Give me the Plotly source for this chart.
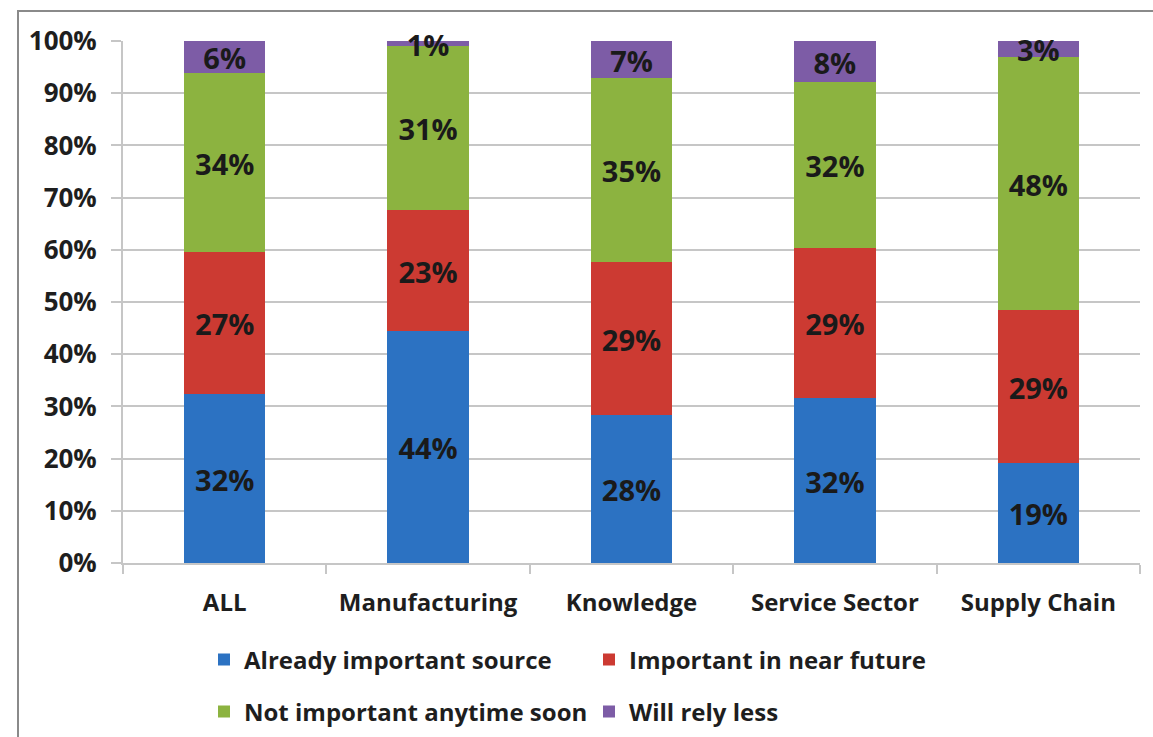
import plotly.graph_objects as go

# Survey responses by sector (percent of respondents)
categories = ["ALL", "Manufacturing", "Knowledge", "Service Sector", "Supply Chain"]
already_important = [32, 44, 28, 32, 19]
important_near_future = [27, 23, 29, 29, 29]
not_important_soon = [34, 31, 35, 32, 48]
will_rely_less = [6, 1, 7, 8, 3]

series_names = [
    "Already important source",
    "Important in near future",
    "Not important anytime soon",
    "Will rely less",
]
series_values = [already_important, important_near_future, not_important_soon, will_rely_less]
series_colors = ["#2C72C2", "#CC3A32", "#8CB340", "#7D5CA6"]
series_legends = ["legend", "legend", "legend2", "legend2"]

FONT = "Open Sans"
TXT = "#1e1e1e"
W, H = 1153, 737
L, R, T, B = 123, 13, 41, 174
PW, PH = W - L - R, H - T - B


def px_x(px):
    return (px - L) / PW


def px_y(py):
    return (H - B - py) / PH


fig = go.Figure()
for name, vals, color, lg in zip(series_names, series_values, series_colors, series_legends):
    fig.add_trace(go.Bar(
        x=categories,
        y=vals,
        name=name,
        marker=dict(color=color, line=dict(width=0)),
        hoverinfo="x+y+name",
        legend=lg,
    ))

# Segment labels, centred in each normalised (100%) stacked segment,
# nudged a few pixels down so the glyphs sit optically centred
label_nudge = 5 / PH * 100
totals = [sum(col) for col in zip(*series_values)]
lab_x, lab_y, lab_t = [], [], []
for i, cat in enumerate(categories):
    base = 0.0
    for vals in series_values:
        share = vals[i] / totals[i] * 100
        lab_x.append(cat)
        lab_y.append(base + share / 2 - label_nudge)
        lab_t.append(f"{vals[i]}%")
        base += share
fig.add_trace(go.Scatter(
    x=lab_x, y=lab_y, text=lab_t,
    mode="text",
    textposition="middle center",
    textfont=dict(family=FONT, size=29, color="#1a1a1a", weight="bold"),
    showlegend=False,
    hoverinfo="skip",
    cliponaxis=False,
))

grid_col = "#c6c6c6"
legend_common = dict(
    orientation="h",
    xref="container", yref="container",
    xanchor="left", yanchor="middle",
    entrywidth=340, entrywidthmode="pixels",
    font=dict(family=FONT, size=24, color=TXT, weight="bold"),
    bgcolor="rgba(0,0,0,0)",
    traceorder="normal",
)
fig.update_layout(
    width=W,
    height=H,
    margin=dict(l=L, r=R, t=T, b=B, autoexpand=False),
    barmode="stack",
    barnorm="percent",
    bargap=0.6,
    plot_bgcolor="white",
    paper_bgcolor="white",
    font=dict(family=FONT, size=22, color=TXT, weight="bold"),
    legend=dict(x=204 / W, y=1 - 660 / H, **legend_common),
    legend2=dict(x=204 / W, y=1 - 712 / H, **legend_common),
    xaxis=dict(
        showgrid=False,
        showline=True,
        linecolor=grid_col,
        linewidth=2,
        ticks="outside",
        tickson="boundaries",
        ticklen=9,
        tickwidth=2,
        tickcolor=grid_col,
        tickfont=dict(family=FONT, size=24, color=TXT, weight="bold"),
        ticklabelstandoff=17,
    ),
    yaxis=dict(
        range=[0, 100],
        tickvals=list(range(0, 101, 10)),
        ticktext=[f"{v}%" for v in range(0, 101, 10)],
        showgrid=True,
        gridcolor=grid_col,
        gridwidth=2,
        showline=True,
        linecolor=grid_col,
        linewidth=2,
        ticks="outside",
        ticklen=10,
        tickwidth=2,
        tickcolor=grid_col,
        tickfont=dict(family=FONT, size=26, color=TXT, weight="bold"),
        zeroline=False,
        ticklabelstandoff=9,
    ),
    shapes=[
        dict(
            type="rect", xref="paper", yref="paper",
            x0=px_x(18), x1=px_x(1170), y0=px_y(760), y1=px_y(11),
            line=dict(color="#8a8a8a", width=2),
            fillcolor="rgba(0,0,0,0)",
            layer="below",
        )
    ],
)

fig.write_html("out.html")
